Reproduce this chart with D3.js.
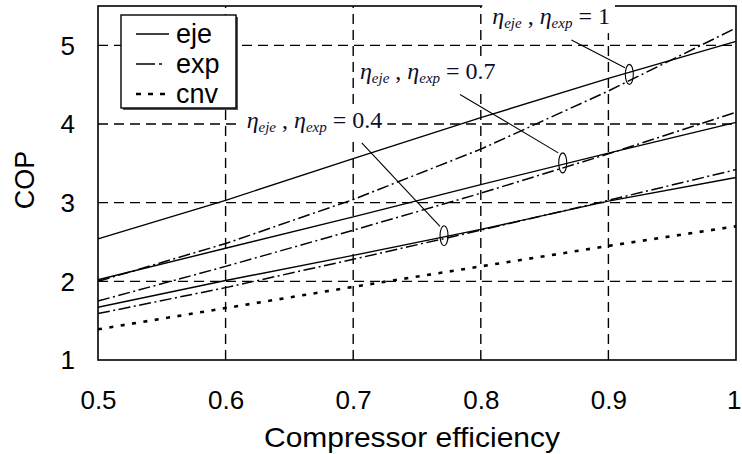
<!DOCTYPE html>
<html>
<head>
<meta charset="utf-8">
<script src="https://cdn.jsdelivr.net/npm/d3@7"></script>
<style>
  html, body { margin: 0; padding: 0; background: #fff; }
  svg { display: block; }
</style>
</head>
<body>
<svg id="chart" width="742" height="454"></svg>
<script>
// ---------------- data ----------------
const compressorEff = [0.5, 0.6, 0.7, 0.8, 0.9, 1.0];
const ejeEta1  = [2.54, 3.03, 3.56, 4.08, 4.58, 5.05];
const ejeEta07 = [2.02, 2.42, 2.82, 3.23, 3.63, 4.02];
const ejeEta04 = [1.67, 2.01, 2.33, 2.66, 3.02, 3.32];
const expEta1  = [2.00, 2.48, 3.04, 3.68, 4.42, 5.22];
const expEta07 = [1.75, 2.19, 2.65, 3.12, 3.62, 4.15];
const expEta04 = [1.59, 1.92, 2.28, 2.65, 3.03, 3.42];
const cnvCop   = [1.39, 1.66, 1.93, 2.19, 2.45, 2.70];

const xTicks = [0.5, 0.6, 0.7, 0.8, 0.9, 1];
const yTicks = [1, 2, 3, 4, 5];
const legendNames = ["eje", "exp", "cnv"];
const annotLabels = ["1", "0.7", "0.4"];
// annotation anchors in data units
const annotTextX = [0.809, 0.7053, 0.6165];
const annotTextY = [5.27, 4.567, 3.95];
const leaderX1 = [0.871, 0.7837, 0.7067];
const leaderY1 = [5.068, 4.376, 3.761];
const leaderX2 = [0.913, 0.8607, 0.768];
const leaderY2 = [4.716, 3.633, 2.698];
const ellipseX = [0.9164, 0.8642, 0.7712];
const ellipseY = [4.631, 3.506, 2.580];

(function () {
// ---------------- styles ----------------
const sansFont = "'Liberation Sans', Arial, sans-serif";
const serifFont = "'Liberation Serif', 'Times New Roman', serif";
const styleOf = {
  eje: { dash: null, width: 1.4 },
  exp: { dash: "12,3.5,2,3.5", width: 1.5 },
  cnv: { dash: "4,7.5", width: 2.6 }
};

const series = [
  { type: "eje", values: ejeEta1 },
  { type: "eje", values: ejeEta07 },
  { type: "eje", values: ejeEta04 },
  { type: "exp", values: expEta1 },
  { type: "exp", values: expEta07 },
  { type: "exp", values: expEta04 },
  { type: "cnv", values: cnvCop }
];

const svg = d3.select("#chart");
const pLeft = 98, pRight = 736, pTop = 6, pBottom = 360;

const x = d3.scaleLinear().domain([0.5, 1]).range([pLeft, pRight]);
const y = d3.scaleLinear().domain([1, 5.5]).range([pBottom, pTop]);

// grid lines
const grid = svg.append("g");
grid.selectAll("line.vx").data(xTicks.filter(d => d > 0.5 && d < 1)).join("line")
  .attr("x1", d => x(d)).attr("x2", d => x(d))
  .attr("y1", y(1)).attr("y2", y(5.5))
  .attr("stroke", "#000").attr("stroke-width", 1.4).attr("stroke-dasharray", "10,6");
grid.selectAll("line.hy").data(yTicks.filter(d => d > 1)).join("line")
  .attr("x1", x(0.5)).attr("x2", x(1))
  .attr("y1", d => y(d)).attr("y2", d => y(d))
  .attr("stroke", "#000").attr("stroke-width", 1.4).attr("stroke-dasharray", "10,6");

// data lines
const line = d3.line().x((d, i) => x(compressorEff[i])).y(d => y(d));
svg.append("g").selectAll("path").data(series).join("path")
  .attr("d", d => line(d.values))
  .attr("fill", "none").attr("stroke", "#000")
  .attr("stroke-width", d => styleOf[d.type].width)
  .attr("stroke-dasharray", d => styleOf[d.type].dash);

// frame
svg.append("rect")
  .attr("x", x(0.5)).attr("y", y(5.5))
  .attr("width", x(1) - x(0.5)).attr("height", y(1) - y(5.5))
  .attr("fill", "none").attr("stroke", "#000").attr("stroke-width", 1.6);

// axes
const xAxis = svg.append("g").attr("transform", `translate(0,${pBottom})`)
  .call(d3.axisBottom(x).tickValues(xTicks).tickSize(0).tickPadding(30)
    .tickFormat(d => d === 1 ? "1" : d3.format(".1f")(d)));
xAxis.select(".domain").remove();
xAxis.selectAll("text").attr("font-family", sansFont).attr("font-size", 26)
  .attr("fill", "#000").attr("dy", "0").attr("y", 49);
xAxis.selectAll("text").filter(d => d === 1).attr("text-anchor", "end").attr("dx", 5);

const yAxis = svg.append("g").attr("transform", `translate(${pLeft},0)`)
  .call(d3.axisLeft(y).tickValues(yTicks).tickSize(0).tickPadding(23)
    .tickFormat(d3.format("d")));
yAxis.select(".domain").remove();
yAxis.selectAll("text").attr("font-family", sansFont).attr("font-size", 26)
  .attr("fill", "#000").attr("dy", "0.34em");

// axis titles
svg.append("text").attr("x", 412).attr("y", 447)
  .attr("text-anchor", "middle").attr("font-family", sansFont).attr("font-size", 28)
  .attr("textLength", 296).attr("lengthAdjust", "spacingAndGlyphs")
  .text("Compressor efficiency");
svg.append("text").attr("transform", "translate(34,180) rotate(-90)")
  .attr("text-anchor", "middle").attr("font-family", sansFont).attr("font-size", 27)
  .text("COP");

// legend
const lg = svg.append("g");
lg.append("rect").attr("x", 123).attr("y", 17).attr("width", 115).attr("height", 93)
  .attr("fill", "#555");
lg.append("rect").attr("x", 121).attr("y", 15).attr("width", 115).attr("height", 93)
  .attr("fill", "#fff").attr("stroke", "#000").attr("stroke-width", 1.4);
legendNames.forEach((name, i) => {
  const cy = 34 + i * 30;
  lg.append("line").attr("x1", 136).attr("x2", 169).attr("y1", cy).attr("y2", cy)
    .attr("stroke", "#000").attr("stroke-width", styleOf[name].width)
    .attr("stroke-dasharray", name === "exp" ? "19,4,3,20" : styleOf[name].dash === null ? null : "5,7");
  lg.append("text").attr("x", 176).attr("y", cy + 9)
    .attr("font-family", sansFont).attr("font-size", 27).text(name);
});

// annotations
const ann = svg.append("g");
annotLabels.forEach((lab, i) => {
  const bg = ann.append("rect").attr("fill", "#fff");
  const t = ann.append("text")
    .attr("x", x(annotTextX[i])).attr("y", y(annotTextY[i]))
    .attr("font-family", serifFont).attr("font-size", 24).attr("fill", "#0d0d2a");
  t.append("tspan").attr("font-style", "italic").text("η");
  t.append("tspan").attr("font-style", "italic").attr("font-size", 15).attr("dy", 4).text("eje");
  t.append("tspan").attr("dy", -4).text(" , ");
  t.append("tspan").attr("font-style", "italic").text("η");
  t.append("tspan").attr("font-style", "italic").attr("font-size", 15).attr("dy", 4).text("exp");
  t.append("tspan").attr("dy", -4).text(" = " + lab);
  const bb = t.node().getBBox();
  const padL = i === 0 ? 10 : 5;
  bg.attr("x", bb.x - padL).attr("y", bb.y).attr("width", bb.width + padL + 5).attr("height", bb.height + 2);

  ann.append("line")
    .attr("x1", x(leaderX1[i])).attr("y1", y(leaderY1[i]))
    .attr("x2", x(leaderX2[i])).attr("y2", y(leaderY2[i]))
    .attr("stroke", "#000").attr("stroke-width", 1.1);
  ann.append("ellipse")
    .attr("cx", x(ellipseX[i])).attr("cy", y(ellipseY[i]))
    .attr("rx", 4).attr("ry", 10)
    .attr("fill", "none").attr("stroke", "#000").attr("stroke-width", 1.1);
});
})();
</script>
</body>
</html>
